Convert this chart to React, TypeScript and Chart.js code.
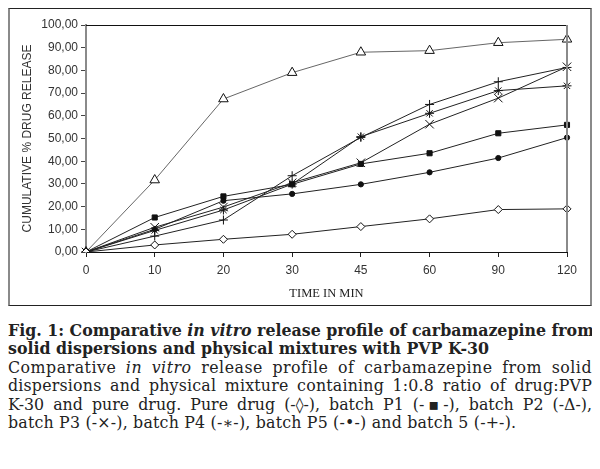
import React, { useEffect, useRef } from "react";
import { Chart, registerables } from "chart.js";

Chart.register(...registerables);

const times = ["0", "10", "20", "30", "45", "60", "90", "120"];
const pureDrug = [0, 3.1, 5.6, 7.8, 11.2, 14.6, 18.7, 19.0];
const batchP1 = [0, 15.2, 24.5, 29.8, 38.8, 43.5, 52.3, 56.0];
const batchP2 = [0, 31.7, 67.4, 79.0, 88.0, 88.7, 92.2, 93.7];
const batchP3 = [0, 10.9, 19.8, 30.5, 39.3, 56.3, 67.8, 81.6];
const batchP4 = [0, 9.5, 18.5, 29.9, 50.8, 61.1, 71.1, 73.2];
const batchP5 = [0, 10.0, 22.6, 25.6, 29.8, 35.1, 41.4, 50.4];
const batch5 = [0, 7.0, 14.1, 33.6, 50.5, 65.0, 75.0, 81.3];
const yTickLabels = ["0,00", "10,00", "20,00", "30,00", "40,00", "50,00", "60,00", "70,00", "80,00", "90,00", "100,00"];

const xTitle = "TIME IN MIN";
const yTitle = "CUMULATIVE % DRUG RELEASE";

const frame = {
  id: "frame",
  afterDraw(chart: any) {
    const { ctx, chartArea } = chart;
    ctx.save();
    ctx.strokeStyle = "#111";
    ctx.lineWidth = 1;
    ctx.beginPath();
    ctx.moveTo(chartArea.left, chartArea.top + 0.5);
    ctx.lineTo(chartArea.right, chartArea.top + 0.5);
    ctx.stroke();
    ctx.strokeStyle = "#8a8a8a";
    ctx.lineWidth = 2;
    ctx.beginPath();
    ctx.moveTo(chartArea.right, chartArea.top);
    ctx.lineTo(chartArea.right, chartArea.bottom);
    ctx.stroke();
    ctx.restore();
  },
};

export default function App() {
  const ref = useRef<HTMLCanvasElement>(null);

  useEffect(() => {
    if (!ref.current) return;
    const mk = (label: string, data: number[], style: string, radius: number, filled: boolean, color = "#222") => ({
      label,
      data,
      borderColor: color,
      borderWidth: 1,
      pointStyle: style,
      pointRadius: radius,
      pointBorderColor: "#111",
      pointBorderWidth: 1,
      pointBackgroundColor: filled ? "#111" : "#fff",
      tension: 0,
      fill: false,
    });
    const chart = new Chart(ref.current, {
      type: "line",
      data: {
        labels: times,
        datasets: [
          mk("Pure drug", pureDrug, "rectRot", 4, false),
          mk("Batch P1", batchP1, "rect", 3.6, true),
          mk("Batch P2", batchP2, "triangle", 5.5, false, "#666"),
          mk("Batch P3", batchP3, "crossRot", 6, false),
          mk("Batch P4", batchP4, "star", 4.5, false),
          mk("Batch P5", batchP5, "circle", 2.6, true),
          mk("Batch 5", batch5, "cross", 4.5, false),
        ],
      },
      options: {
        animation: false,
        responsive: false,
        devicePixelRatio: 1,
        layout: { padding: { top: 16, right: 23, left: 0, bottom: 0 } },
        plugins: { legend: { display: false }, tooltip: { enabled: false } },
        scales: {
          x: {
            type: "category",
            offset: false,
            grid: { drawOnChartArea: false, drawTicks: true, tickLength: 5, color: "#222" },
            border: { color: "#111", width: 1 },
            ticks: {
              autoSkip: false,
              maxRotation: 0,
              padding: 6,
              color: "#333",
              font: { family: "Liberation Sans", size: 12 },
            },
            title: {
              display: true,
              text: xTitle,
              color: "#222",
              font: { family: "Liberation Serif", size: 12.5 },
              padding: { top: 0, bottom: 4 },
            },
            afterFit: (s: any) => {
              s.height = 53;
            },
          },
          y: {
            min: 0,
            max: 100,
            ticks: {
              stepSize: 10,
              padding: 3,
              color: "#333",
              font: { family: "Liberation Sans", size: 12 },
              callback: (_v: any, i: number) => yTickLabels[i],
            },
            grid: { drawOnChartArea: false, drawTicks: true, tickLength: 5, color: "#444" },
            border: { color: "#8a8a8a", width: 2 },
            title: {
              display: true,
              text: yTitle,
              color: "#333",
              font: { family: "Liberation Sans", size: 12 },
              padding: { top: 10, bottom: 0 },
            },
            afterFit: (s: any) => {
              s.width = 76;
            },
          },
        },
      },
      plugins: [frame],
    });
    return () => chart.destroy();
  }, []);

  const lineStyle: React.CSSProperties = {
    textAlign: "justify",
    textAlignLast: "justify",
    whiteSpace: "nowrap",
  };
  const lastStyle: React.CSSProperties = { whiteSpace: "nowrap" };

  return (
    <div>
      <div
        style={{
          width: 580,
          height: 296,
          borderTop: "1px solid #222",
          borderBottom: "1px solid #222",
          borderLeft: "2px solid #8a8a8a",
          borderRight: "2px solid #8a8a8a",
        }}
      >
        <canvas ref={ref} width={580} height={296} style={{ display: "block" }} />
      </div>
      <div
        style={{
          width: 584,
          marginTop: 16,
          fontFamily: "'DejaVu Serif', serif",
          fontSize: 15.8,
          lineHeight: "18.4px",
          color: "#222",
        }}
      >
        <div style={{ ...lineStyle, fontWeight: "bold" }}>
          Fig. 1: Comparative <i>in vitro</i> release profile of carbamazepine from
        </div>
        <div style={{ ...lastStyle, fontWeight: "bold" }}>
          solid dispersions and physical mixtures with PVP K-30
        </div>
        <div style={{ ...lineStyle, letterSpacing: 0.5 }}>
          Comparative <i>in vitro</i> release profile of carbamazepine from solid
        </div>
        <div style={{ ...lineStyle, letterSpacing: 0.2 }}>
          dispersions and physical mixture containing 1:0.8 ratio of drug:PVP
        </div>
        <div style={lineStyle}>
          K-30 and pure drug. Pure drug (-◊-), batch P1 (-▪-), batch P2 (-Δ-),
        </div>
        <div style={{ ...lastStyle, letterSpacing: 0.2 }}>
          batch P3 (-×-), batch P4 (-∗-), batch P5 (-•-) and batch 5 (-+-).
        </div>
      </div>
    </div>
  );
}
